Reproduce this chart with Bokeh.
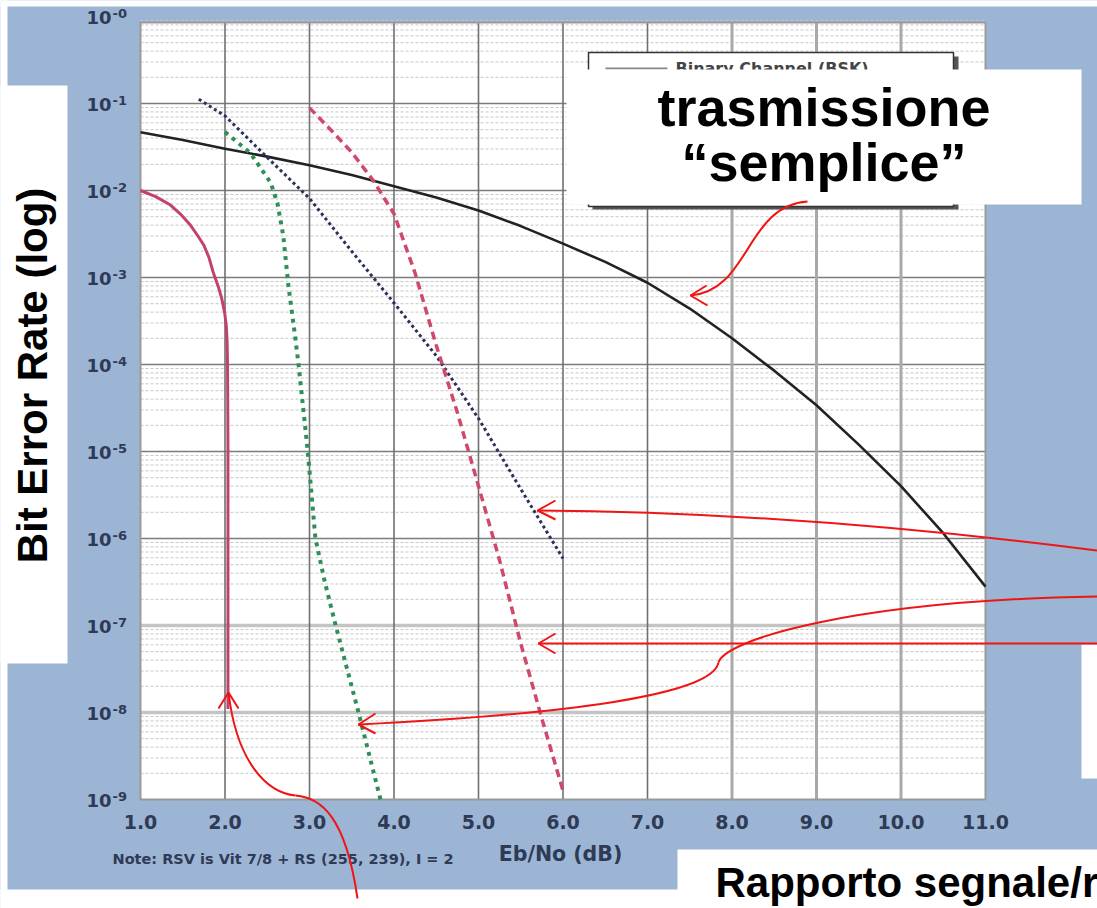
import numpy as np
from bokeh.plotting import figure
from bokeh.models import Range1d
from bokeh.core.properties import value
from bokeh.embed import file_html
from bokeh.resources import INLINE

# ---------------- data ----------------
ebno_uncoded = [1.0, 1.5, 2.0, 2.5, 3.0, 3.5, 4.0, 4.5, 5.0, 5.5, 6.0,
                6.5, 7.0, 7.5, 8.0, 8.5, 9.0, 9.5, 10.0, 10.5, 11.0]
ber_uncoded = [4.68e-2, 3.8e-2, 3.02e-2, 2.45e-2, 1.95e-2, 1.51e-2, 1.12e-2, 8.3e-3,
               5.9e-3, 3.9e-3, 2.45e-3, 1.51e-3, 8.7e-4, 4.4e-4, 2.0e-4, 8.5e-5,
               3.4e-5, 1.2e-5, 4.0e-6, 1.15e-6, 2.8e-7]

ebno_vit = [1.69, 2.0, 2.5, 3.0, 3.5, 4.0, 4.5, 5.0, 5.5, 6.0]
ber_vit = [0.112, 0.072, 0.024, 8.1e-3, 2.0e-3, 5.1e-4, 1.26e-4, 2.4e-5, 3.7e-6, 5.9e-7]

ebno_rs = [3.0, 3.25, 3.5, 3.75, 4.0, 4.25, 4.5, 4.75, 5.0, 5.25, 5.5, 5.75, 6.0]
ber_rs = [8.9e-2, 5.0e-2, 2.75e-2, 1.32e-2, 5.4e-3, 1.12e-3, 1.66e-4, 2.8e-5,
          4.0e-6, 5.6e-7, 6.2e-8, 8.5e-9, 1.26e-9]

ebno_rsv = [2.0, 2.3, 2.54, 2.62, 2.69, 2.75, 2.83, 2.87, 2.98, 3.07, 3.18, 3.31, 3.58, 3.84]
ber_rsv = [4.7e-2, 2.7e-2, 1.23e-2, 7.2e-3, 3.0e-3, 8.1e-4, 2.1e-4, 1.0e-4,
           1.0e-5, 1.0e-6, 3.2e-7, 1.0e-7, 1.0e-8, 1.0e-9]

ebno_turbo = [1.0, 1.18, 1.355, 1.47, 1.59, 1.68, 1.75, 1.81, 1.86, 1.92, 1.96,
              1.995, 2.015, 2.025, 2.03, 2.033, 2.035, 2.035, 2.035, 2.035]
ber_turbo = [1.0e-2, 8.5e-3, 6.8e-3, 5.4e-3, 4.0e-3, 3.0e-3, 2.35e-3, 1.7e-3,
             1.15e-3, 7.9e-4, 5.8e-4, 4.0e-4, 2.8e-4, 1.8e-4, 1.0e-4, 3.2e-5,
             1.0e-5, 1.0e-6, 1.0e-7, 1.1e-8]

x_ticks = [1, 2, 3, 4, 5, 6, 7, 8, 9, 10, 11]
x_tick_labels = ["1.0", "2.0", "3.0", "4.0", "5.0", "6.0", "7.0", "8.0", "9.0", "10.0", "11.0"]
y_exponents = [0, -1, -2, -3, -4, -5, -6, -7, -8, -9]
y_exp_labels = ["-0", "-1", "-2", "-3", "-4", "-5", "-6", "-7", "-8", "-9"]
grid_x_dark = [2, 3, 4, 5, 6, 7]
grid_x_light = [8, 9, 10]
grid_e_dark = [-1, -2, -3, -4, -5, -6]
grid_e_light = [-7, -8]

# ---------------- layout helpers (page pixel -> data) ----------------
def X(px):
    return 1 + (px - 140) / 84.5

def Y(py):
    return 10 ** (-1 - (py - 103) / 87.0)

BLUE = "#9cb5d5"
TICK = "#2f3a55"
RED = "#f01515"

p = figure(width=1097, height=908,
           x_range=Range1d(X(0), X(1097)), y_range=Range1d(Y(908), Y(0)),
           y_axis_type="log", x_axis_location=None, y_axis_location=None,
           toolbar_location=None, min_border=0, output_backend="svg", title=None,
           background_fill_color=BLUE, border_fill_color="white",
           outline_line_color=None)
p.grid.visible = False

# white margins around the blue panel
p.quad(left=[X(-10)], right=[X(1110)], bottom=[Y(920)], top=[Y(889)],
       fill_color="white", line_color=None)
p.quad(left=[X(-10)], right=[X(1110)], bottom=[Y(6)], top=[Y(-10)],
       fill_color="white", line_color=None)
p.quad(left=[X(-10)], right=[X(7)], bottom=[Y(920)], top=[Y(-10)],
       fill_color="white", line_color=None)

# chart area
TOP = Y(22)
p.quad(left=[1], right=[11], bottom=[1e-9], top=[TOP], fill_color="white", line_color=None)

# minor horizontal grid
minor = [m * 10.0 ** k for k in range(-9, 0) for m in range(2, 10)]
p.segment(x0=[1] * len(minor), x1=[11] * len(minor), y0=minor, y1=minor,
          line_color="#c6c6c6", line_width=1, line_dash="3 2")

# major grid
p.segment(x0=[1] * len(grid_e_light), x1=[11] * len(grid_e_light),
          y0=[10.0 ** e for e in grid_e_light], y1=[10.0 ** e for e in grid_e_light],
          line_color="#c4c4c4", line_width=3.5)
p.segment(x0=[1] * len(grid_e_dark), x1=[11] * len(grid_e_dark),
          y0=[10.0 ** e for e in grid_e_dark], y1=[10.0 ** e for e in grid_e_dark],
          line_color="#7c7c7c", line_width=1.6)
p.segment(x0=grid_x_light, x1=grid_x_light, y0=[1e-9] * 3, y1=[TOP] * 3,
          line_color="#a9a9a9", line_width=3)
p.segment(x0=grid_x_dark, x1=grid_x_dark, y0=[1e-9] * 6, y1=[TOP] * 6,
          line_color="#707070", line_width=1.6)

# chart border
p.quad(left=[1], right=[11], bottom=[1e-9], top=[TOP], fill_color=None,
       line_color="#9a9a9a", line_width=2)

# curves
p.line(ebno_uncoded, ber_uncoded, line_color="#222222", line_width=2.6, line_join="round")
p.line(ebno_vit, ber_vit, line_color="#2b3158", line_width=3, line_dash="3 3")
p.line(ebno_rs, ber_rs, line_color="#d0496b", line_width=3.5, line_dash="8 5")
p.line(ebno_rsv, ber_rsv, line_color="#2e8f58", line_width=4, line_dash="4 5")
p.line(ebno_turbo, ber_turbo, line_color="#c2416f", line_width=3, line_join="round")

# partially hidden legend box
p.quad(left=[X(592)], right=[X(958)], bottom=[Y(209)], top=[Y(56)],
       fill_color="#555555", line_color=None)
p.quad(left=[X(588)], right=[X(953)], bottom=[Y(206)], top=[Y(52)],
       fill_color="white", line_color="#333333", line_width=1.5)
p.line([X(605), X(667)], [Y(68), Y(68)], line_color="#888888", line_width=2)
p.text(x=[X(675)], y=[Y(68)], text=["Binary Channel (BSK)"], text_font=value("DejaVu Sans"),
       text_font_size="16px", text_font_style="bold", text_color="#444444",
       text_align="left", text_baseline="middle")

# white overlay boxes
p.quad(left=[X(566)], right=[X(1081)], bottom=[Y(204)], top=[Y(69)],
       fill_color="white", line_color=None)
p.quad(left=[X(-10)], right=[X(67)], bottom=[Y(663)], top=[Y(85)],
       fill_color="white", line_color=None)
p.quad(left=[X(677)], right=[X(1110)], bottom=[Y(920)], top=[Y(849)],
       fill_color="white", line_color=None)
p.quad(left=[X(1081)], right=[X(1110)], bottom=[Y(778)], top=[Y(644)],
       fill_color="white", line_color=None)

# tick labels
p.text(x=x_ticks, y=[Y(821)] * len(x_ticks), text=x_tick_labels,
       text_font=value("DejaVu Sans"), text_font_size="19px", text_font_style="bold",
       text_color=TICK, text_align="center", text_baseline="middle")
p.text(x=[X(111)] * len(y_exponents), y=[10.0 ** (e - 1 / 87.0) for e in y_exponents],
       text=["10"] * len(y_exponents), text_font=value("DejaVu Sans"),
       text_font_size="18px", text_font_style="bold", text_color=TICK,
       text_align="right", text_baseline="middle")
p.text(x=[X(112)] * len(y_exponents), y=[10.0 ** (e + 3 / 87.0) for e in y_exponents],
       text=y_exp_labels, text_font=value("DejaVu Sans"),
       text_font_size="13px", text_font_style="bold", text_color=TICK,
       text_align="left", text_baseline="middle")

p.text(x=[X(560)], y=[Y(853)], text=["Eb/No (dB)"], text_font=value("DejaVu Sans"),
       text_font_size="20.5px", text_font_style="bold", text_color=TICK,
       text_align="center", text_baseline="middle")
p.text(x=[X(112)], y=[Y(858)], text=["Note: RSV is Vit 7/8 + RS (255, 239), I = 2"],
       text_font=value("DejaVu Sans"), text_font_size="14.5px", text_font_style="bold",
       text_color=TICK, text_align="left", text_baseline="middle")

# big overlay texts
BIG = value("Liberation Sans")
p.text(x=[X(823.5)], y=[Y(106)], text=["trasmissione"], text_font=BIG,
       text_font_size="54px", text_font_style="bold", text_color="black",
       text_align="center", text_baseline="middle")
p.text(x=[X(823.5)], y=[Y(161)], text=["\u201csemplice\u201d"], text_font=BIG,
       text_font_size="54px", text_font_style="bold", text_color="black",
       text_align="center", text_baseline="middle")
p.text(x=[X(32)], y=[Y(375)], text=["Bit Error Rate (log)"], text_font=BIG,
       text_font_size="42px", text_font_style="bold", text_color="black",
       angle=np.pi / 2, text_align="center", text_baseline="middle")
p.text(x=[X(715)], y=[Y(882)], text=["Rapporto segnale/rumore"], text_font=BIG,
       text_font_size="42px", text_font_style="bold", text_color="black",
       text_align="left", text_baseline="middle")

# red arrows (cubic curves) in page-layout pixels
curves = [
    ((807, 201), (745, 205), (750, 290), (690, 295)),
    ((537, 510), (712, 511), (899, 525), (1097, 550)),
    ((358, 724), (560, 714), (712, 695), (718, 662)),
    ((718, 662), (724, 640), (850, 600), (1097, 596)),
    ((538, 643), (700, 643), (900, 643), (1097, 643)),
    ((228, 692), (236, 760), (265, 792), (295, 795)),
    ((295, 795), (320, 797), (345, 815), (357, 898)),
]
p.bezier(x0=[X(c[0][0]) for c in curves], y0=[Y(c[0][1]) for c in curves],
         cx0=[X(c[1][0]) for c in curves], cy0=[Y(c[1][1]) for c in curves],
         cx1=[X(c[2][0]) for c in curves], cy1=[Y(c[2][1]) for c in curves],
         x1=[X(c[3][0]) for c in curves], y1=[Y(c[3][1]) for c in curves],
         line_color=RED, line_width=2)
heads = [
    ((706, 285), (690, 295), (707, 305)),
    ((555, 500), (537, 510), (555, 519)),
    ((375, 713), (358, 724), (375, 733)),
    ((555, 633), (538, 643), (555, 653)),
    ((218, 708), (228, 692), (238, 708)),
]
p.multi_line(xs=[[X(a[0]) for a in h] for h in heads], ys=[[Y(a[1]) for a in h] for h in heads],
             line_color=RED, line_width=2)

open("out.html", "w").write(file_html(p, INLINE))
